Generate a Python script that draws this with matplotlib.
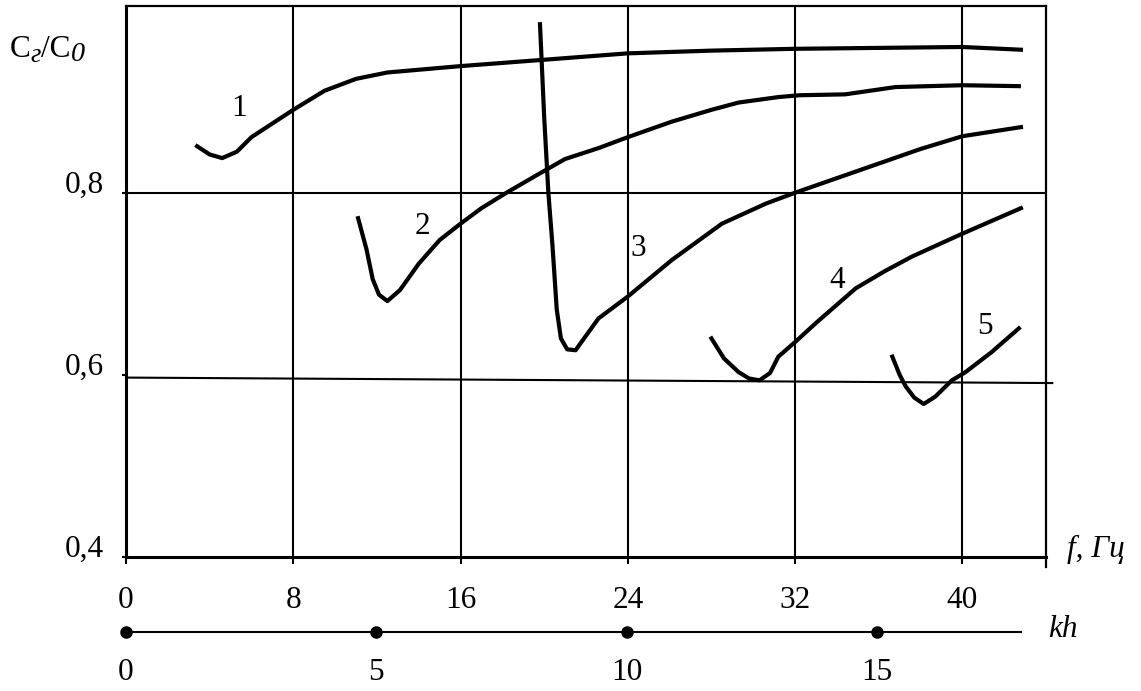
import numpy as np
import matplotlib
matplotlib.use('Agg')
from matplotlib import pyplot as plt

plt.rcParams['font.family'] = ['Liberation Serif', 'DejaVu Serif']

# curves C2/C0 vs f (Hz)
f1 = [3.4, 4.0, 4.6, 5.3, 6.0, 7.0, 8.0, 9.5, 11.0, 12.5, 14, 16, 20, 24, 28, 32, 36, 40, 42.8]
y1 = [0.851, 0.842, 0.838, 0.845, 0.861, 0.876, 0.891, 0.912, 0.925, 0.932, 0.935, 0.939,
      0.946, 0.953, 0.956, 0.958, 0.959, 0.960, 0.957]

f2 = [11.1, 11.5, 11.8, 12.1, 12.5, 13.1, 14.0, 15.0, 16.0, 17.0, 18.2, 19.7, 21.0, 22.6,
      24.0, 26.1, 28.0, 29.3, 31.2, 32.2, 34.4, 36.8, 40.0, 42.7]
y2 = [0.772, 0.738, 0.705, 0.688, 0.681, 0.693, 0.722, 0.748, 0.766, 0.783, 0.800, 0.820,
      0.837, 0.849, 0.861, 0.878, 0.891, 0.899, 0.905, 0.907, 0.908, 0.916, 0.918, 0.917]

f3 = [19.8, 20.0, 20.2, 20.4, 20.6, 20.8, 21.1, 21.5, 22.0, 22.6, 24.0, 26.1, 28.5, 30.6,
      32.0, 34.0, 36.0, 38.0, 40.0, 42.8]
y3 = [0.985, 0.883, 0.800, 0.741, 0.672, 0.640, 0.628, 0.627, 0.643, 0.662, 0.686, 0.726,
      0.766, 0.788, 0.800, 0.816, 0.832, 0.848, 0.862, 0.872]

f4 = [28.0, 28.6, 29.3, 29.8, 30.3, 30.8, 31.2, 32.0, 33.0, 34.9, 36.3, 37.6, 40.0, 42.8]
y4 = [0.640, 0.618, 0.603, 0.596, 0.594, 0.602, 0.620, 0.636, 0.657, 0.695, 0.714, 0.730,
      0.755, 0.783]

f5 = [36.65, 37.0, 37.3, 37.7, 38.15, 38.7, 39.5, 40.15, 41.4, 42.7]
y5 = [0.620, 0.600, 0.587, 0.575, 0.568, 0.576, 0.594, 0.603, 0.625, 0.651]

curves = [(f1, y1), (f2, y2), (f3, y3), (f4, y4), (f5, y5)]
labels = ['1', '2', '3', '4', '5']
label_pos = [(5.4, 0.893), (14.2, 0.763), (24.5, 0.739), (34.0, 0.704), (41.1, 0.653)]

f_ticks = [0, 8, 16, 24, 32, 40]
y_ticks = [0.4, 0.6, 0.8]
y_ticklabels = ['0,4', '0,6', '0,8']
grid06 = [0.597, 0.591]   # the 0,6 line is drawn slightly tilted

kh_ticks = [0, 5, 10, 15]
kh_end = 17.88
kh_per_f = 0.4177

fs = 22.5
fig = plt.figure(figsize=(11.41, 6.91), dpi=100)
W, H = 1141, 691
x0, x1, y0, y1p = 126, 1046, 557, 6
ax = fig.add_axes([x0 / W, 1 - y0 / H, (x1 - x0) / W, (y0 - y1p) / H])
ax.set_xlim(0, 44)
ax.set_ylim(0.4, 1.005)

for xv in f_ticks[1:]:
    ax.axvline(xv, color='black', lw=1.5, zorder=1)
ax.axhline(0.8, color='black', lw=1.5, zorder=1)
ax.plot([0, 44.3], grid06, color='black', lw=1.5, zorder=1, clip_on=False)
# right border runs a little below the f axis
ax.plot([44, 44], [0.4, 0.389], color='black', lw=1.6, clip_on=False)

for (fx, fy) in curves:
    ax.plot(fx, fy, color='black', lw=3.0, solid_joinstyle='round', zorder=3)
for lab, (lx, ly) in zip(labels, label_pos):
    ax.text(lx, ly, lab, fontsize=fs, ha='center', va='center')

ax.spines['left'].set_linewidth(2.2)
ax.spines['bottom'].set_linewidth(2.2)
ax.spines['top'].set_linewidth(1.6)
ax.spines['right'].set_linewidth(1.6)

ax.set_xticks(f_ticks)
ax.set_xticklabels([str(v) for v in f_ticks], fontsize=fs)
ax.set_yticks(y_ticks)
ax.set_yticklabels(y_ticklabels, fontsize=fs)
ax.tick_params(axis='x', direction='out', length=5, width=1.5, pad=32)
ax.tick_params(axis='y', direction='out', length=3, width=1.5, pad=13)
for t in ax.get_xticklabels():
    t.set_va('baseline')
for t in ax.get_yticklabels():
    t.set_va('baseline')

# y label C_г/C_0 built from pieces so the subscripts stay large and italic
renderer = fig.canvas.get_renderer()
pieces = [('C', 'normal', fs, 0), ('г', 'italic', fs * 0.85, -5),
          ('/C', 'normal', fs, 0), ('0', 'italic', fs * 0.9, -4)]
xp = 10
for txt, st, size, dy in pieces:
    t = fig.text(xp / W, 1 - (57 - dy) / H, txt, fontsize=size, style=st,
                 ha='left', va='baseline')
    xp += t.get_window_extent(renderer).width

ax.text((1067 - x0) / (x1 - x0), 0, 'f, Гц', transform=ax.transAxes, fontsize=fs,
        style='italic', ha='left', va='baseline')

# kh scale under the f axis
ax2 = fig.add_axes([x0 / W, 0, (x1 - x0) / W, 80 / H])
ax2.set_xlim(0, 44 * kh_per_f)
ax2.set_ylim(0, 80)
ax2.axis('off')
ax2.plot([0, kh_end], [59, 59], color='black', lw=1.5, clip_on=False)
ax2.plot(kh_ticks, [59] * len(kh_ticks), 'o', color='black', ms=8, clip_on=False)
for k in kh_ticks:
    ax2.text(k, 11, str(k), fontsize=fs, ha='center', va='baseline')
ax2.text(18.43, 54, 'kh', fontsize=fs, style='italic', ha='left', va='baseline')

fig.savefig('out.png', dpi=100)
